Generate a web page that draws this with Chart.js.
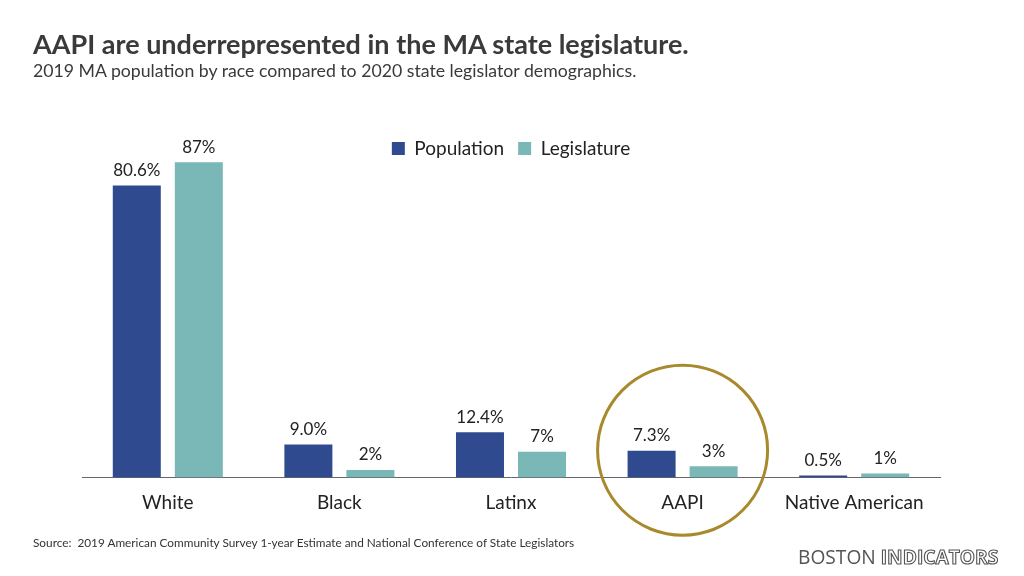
<!DOCTYPE html>
<html>
<head>
    <title>AAPI representation</title>
    <script src="https://cdn.jsdelivr.net/npm/chart.js"></script>
    <style>
        body { margin: 0; background: #fff; font-family: Lato, "Open Sans", sans-serif; }
        #wrap { position: relative; width: 1024px; height: 576px; overflow: hidden; }
        #chartBox { position: absolute; left: 0; top: 0; width: 1024px; height: 576px; }
        .title { position: absolute; left: 33px; top: 27px; font-size: 27px; font-weight: bold; color: #3a3a3a; white-space: nowrap; }
        .subtitle { position: absolute; left: 33px; top: 60px; font-size: 17.7px; color: #3a3a3a; white-space: nowrap; }
        .source { position: absolute; left: 33px; top: 535px; font-size: 11.8px; color: #333; white-space: nowrap; }
        .logo { position: absolute; left: 798px; top: 543px; font-size: 19.2px; color: #555; white-space: nowrap; font-family: "Open Sans", sans-serif; }
        .logo b { font-weight: bold; color: #fff; -webkit-text-stroke: 1.1px #555; }
    </style>
    <script>
        const categories = ['White', 'Black', 'Latinx', 'AAPI', 'Native American'];
        const population = [80.6, 9.0, 12.4, 7.3, 0.5];
        const legislature = [87, 2, 7, 3, 1];
        const highlightCategory = 'AAPI';

        // draws the % labels above each bar and the circle around AAPI
        const barLabels = {
            id: 'barLabels',
            afterDatasetsDraw(chart) {
                const ctx = chart.ctx;
                ctx.save();
                ctx.font = '17px Lato, sans-serif';
                ctx.fillStyle = '#222';
                ctx.textAlign = 'center';
                ctx.textBaseline = 'middle';
                chart.data.datasets.forEach((ds, i) => {
                    chart.getDatasetMeta(i).data.forEach((bar, j) => {
                        const v = ds.data[j];
                        const txt = (i === 0 ? v.toFixed(1) : v) + '%';
                        ctx.fillText(txt, bar.x, bar.y - 15);
                    });
                });
                ctx.restore();
            },
            afterDraw(chart) {
                const ctx = chart.ctx;
                const x = chart.scales.x.getPixelForValue(categories.indexOf(highlightCategory));
                const y = chart.chartArea.bottom - 27;
                ctx.save();
                ctx.strokeStyle = '#a88a2c';
                ctx.lineWidth = 3;
                ctx.beginPath();
                ctx.arc(x, y, 85, 0, Math.PI * 2);
                ctx.stroke();
                ctx.restore();
            }
        };

        window.onload = function() {
            var ctx = document.getElementById('myChart').getContext('2d');
            new Chart(ctx, {
                type: 'bar',
                data: {
                    labels: categories,
                    datasets: [{
                        label: 'Population',
                        data: population,
                        backgroundColor: '#2f4a8e',
                        categoryPercentage: 0.723,
                        barPercentage: 0.774,
                        clip: false
                    }, {
                        label: 'Legislature',
                        data: legislature,
                        backgroundColor: '#79b8b6',
                        categoryPercentage: 0.723,
                        barPercentage: 0.774,
                        clip: false
                    }]
                },
                options: {
                    responsive: false,
                    animation: false,
                    layout: { padding: { left: 82, right: 84, top: 125, bottom: 48 } },
                    plugins: {
                        legend: {
                            position: 'top',
                            align: 'center',
                            labels: {
                                boxWidth: 13,
                                boxHeight: 13,
                                color: '#222',
                                padding: 14,
                                font: { size: 19, family: 'Lato, sans-serif' }
                            }
                        },
                        tooltip: { enabled: false }
                    },
                    scales: {
                        y: { display: false, min: 0, max: 85.4 },
                        x: {
                            grid: { display: false, drawTicks: false },
                            border: { color: '#666', width: 1 },
                            ticks: {
                                color: '#222',
                                padding: 14,
                                font: { size: 19, family: 'Lato, sans-serif' }
                            }
                        }
                    }
                },
                plugins: [barLabels]
            });
        }
    </script>
</head>
<body>
    <div id="wrap">
        <div id="chartBox"><canvas id="myChart" width="1024" height="576"></canvas></div>
        <div class="title">AAPI are underrepresented in the MA state legislature.</div>
        <div class="subtitle">2019 MA population by race compared to 2020 state legislator demographics.</div>
        <div class="source">Source:&nbsp; 2019 American Community Survey 1-year Estimate and National Conference of State Legislators</div>
        <div class="logo">BOSTON <b>INDICATORS</b></div>
    </div>
</body>
</html>
